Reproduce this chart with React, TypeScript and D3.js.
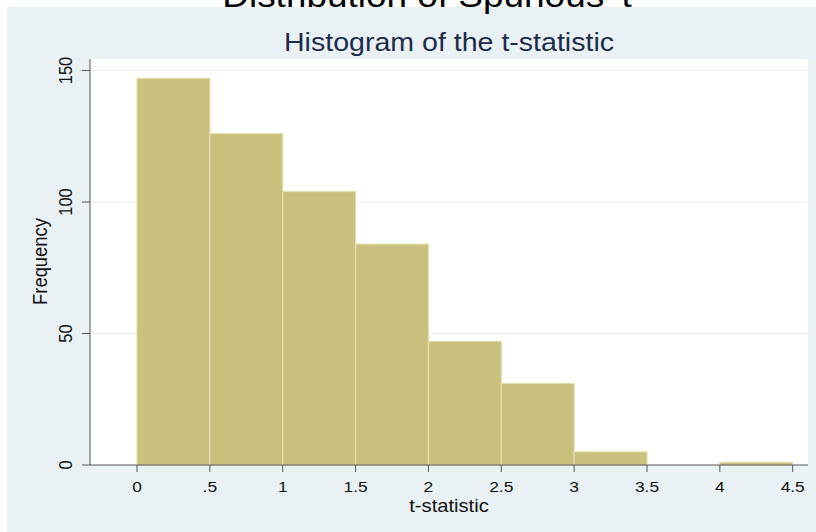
import React from "react";
import * as d3 from "d3";

const binEdges = [0, 0.5, 1, 1.5, 2, 2.5, 3, 3.5, 4, 4.5];
const counts = [147, 126, 104, 84, 47, 31, 5, 0, 1];
const xTicks = [0, 0.5, 1, 1.5, 2, 2.5, 3, 3.5, 4, 4.5];
const xTickLabels = ["0", ".5", "1", "1.5", "2", "2.5", "3", "3.5", "4", "4.5"];
const yTicks = [0, 50, 100, 150];
const yTickLabels = ["0", "50", "100", "150"];
const topTitle = "Distribution of Spurious 't";
const chartTitle = "Histogram of the t-statistic";
const xTitle = "t-statistic";
const yTitle = "Frequency";

const W = 816;
const H = 532;
const SX = 1.12;
const FONT = "Liberation Sans, Arial, sans-serif";

export default function App() {
  const x = d3.scaleLinear().domain([0, 4.5]).range([137, 792.7]);
  const y = d3.scaleLinear().domain([0, 150]).range([465, 70.5]);
  const plot = { x0: 90, x1: 808, y0: 59, y1: 465 };

  const bars = counts.map((c, i) => ({ x0: binEdges[i], x1: binEdges[i + 1], c }));

  const st = (tx: number, ty: number, rot = 0) =>
    `translate(${tx},${ty}) scale(${SX},1)${rot ? ` rotate(${rot})` : ""}`;

  return (
    <svg
      width={W}
      height={H}
      style={{ position: "absolute", left: 0, top: 0, display: "block" }}
    >
      <rect x={0} y={0} width={W} height={H} fill="#ffffff" />
      <rect x={7} y={7} width={W - 7} height={H - 7} fill="#e9f1f4" />
      <text
        transform={st(427, 7)}
        textAnchor="middle"
        fontFamily={FONT}
        fontSize={33}
        fill="#000"
      >
        {topTitle}
      </text>
      <rect
        x={plot.x0}
        y={plot.y0}
        width={plot.x1 - plot.x0}
        height={plot.y1 - plot.y0}
        fill="#ffffff"
      />
      {yTicks.slice(1).map((t) => (
        <line
          key={"g" + t}
          x1={plot.x0}
          x2={plot.x1}
          y1={y(t)}
          y2={y(t)}
          stroke="#e6eff2"
          strokeWidth={1.2}
        />
      ))}
      {bars.map((b, i) =>
        b.c > 0 ? (
          <rect
            key={"b" + i}
            x={x(b.x0)}
            y={y(b.c)}
            width={x(b.x1) - x(b.x0)}
            height={y(0) - y(b.c)}
            fill="#c8c17e"
            stroke="#e3deac"
            strokeWidth={1.2}
          />
        ) : null
      )}
      <line x1={plot.x0} x2={plot.x0} y1={plot.y0} y2={plot.y1} stroke="#555" strokeWidth={1} />
      <line x1={plot.x0} x2={plot.x1} y1={plot.y1} y2={plot.y1} stroke="#555" strokeWidth={1} />
      {yTicks.map((t, i) => (
        <g key={"yt" + t}>
          <line x1={plot.x0 - 8} x2={plot.x0} y1={y(t)} y2={y(t)} stroke="#555" />
          <text
            transform={st(72, y(t), -90)}
            textAnchor="middle"
            fontFamily={FONT}
            fontSize={16.5}
            fill="#111"
          >
            {yTickLabels[i]}
          </text>
        </g>
      ))}
      {xTicks.map((t, i) => (
        <g key={"xt" + t}>
          <line x1={x(t)} x2={x(t)} y1={plot.y1} y2={plot.y1 + 7} stroke="#555" />
          <text
            transform={st(x(t), 491.5)}
            textAnchor="middle"
            fontFamily={FONT}
            fontSize={15.5}
            fill="#111"
          >
            {xTickLabels[i]}
          </text>
        </g>
      ))}
      <text
        transform={st(449, 51)}
        textAnchor="middle"
        fontFamily={FONT}
        fontSize={25.5}
        fill="#1c2c4a"
      >
        {chartTitle}
      </text>
      <text
        transform={st(449, 511.5)}
        textAnchor="middle"
        fontFamily={FONT}
        fontSize={18}
        fill="#111"
      >
        {xTitle}
      </text>
      <text
        transform={st(46.5, 261.5, -90)}
        textAnchor="middle"
        fontFamily={FONT}
        fontSize={18.4}
        fill="#111"
      >
        {yTitle}
      </text>
    </svg>
  );
}
